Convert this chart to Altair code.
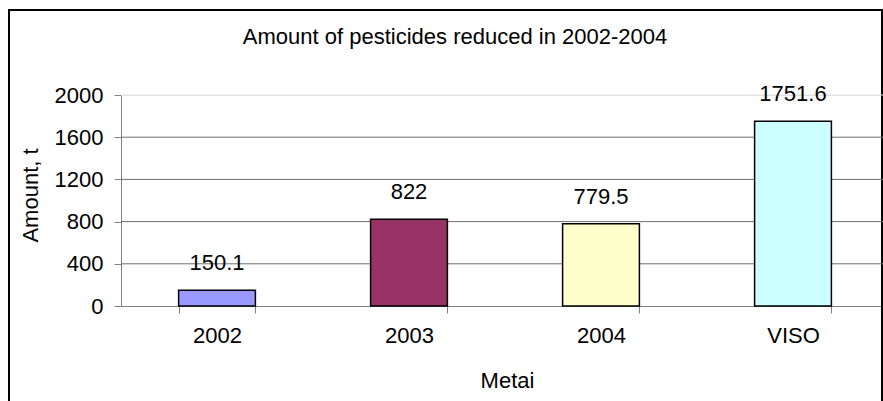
import altair as alt
import pandas as pd

categories = ["2002", "2003", "2004", "VISO"]
values = [150.1, 822, 779.5, 1751.6]
labels = ["150.1", "822", "779.5", "1751.6"]
colors = ["#9999FF", "#993366", "#FFFFCC", "#CCFFFF"]
y_ticks = [0, 400, 800, 1200, 1600, 2000]
title_text = ["Amount of pesticides reduced in 2002-2004"]

df = pd.DataFrame({"cat": categories, "val": values, "lbl": labels})
df_grid = pd.DataFrame({"v": y_ticks[1:]})
df_title = pd.DataFrame({"t": title_text})

FONT = "Liberation Sans"
FS = 22

xenc = alt.X(
    "cat:N",
    sort=categories,
    scale=alt.Scale(range=[0, 768], paddingInner=0.6, paddingOuter=0.3),
    axis=alt.Axis(
        title="Metai",
        labelAngle=0,
        labelFontSize=FS,
        labelFont=FONT,
        labelColor="#000",
        labelPadding=12,
        labelBaseline="top",
        tickBand="extent",
        tickSize=7,
        tickColor="#808080",
        domainColor="#808080",
        grid=False,
        titleFontSize=FS,
        titleFont=FONT,
        titleFontWeight="normal",
        titleColor="#000",
        titleX=386,
        titleY=81,
        titleAlign="center",
        titleBaseline="alphabetic",
    ),
)

yscale = alt.Scale(domain=[0, 2000], nice=False)

yenc = alt.Y(
    "val:Q",
    scale=yscale,
    axis=alt.Axis(
        title="Amount, t",
        values=y_ticks,
        format="d",
        labelFontSize=FS,
        labelFont=FONT,
        labelColor="#000",
        labelPadding=11,
        tickSize=7,
        tickColor="#808080",
        domainColor="#808080",
        grid=False,
        titleFontSize=FS,
        titleFont=FONT,
        titleFontWeight="normal",
        titleColor="#000",
        titleAngle=270,
        titleX=-91,
        titleY=100,
        titleAlign="center",
        titleBaseline="middle",
    ),
)

border = alt.Chart(df).mark_rect(fill=None, stroke="#000", strokeWidth=1.5).encode(
    x=alt.value(-112), x2=alt.value(761), y=alt.value(-85), y2=alt.value(320)
)

title = alt.Chart(df_title).mark_text(
    fontSize=FS, font=FONT, color="#000", align="center", baseline="alphabetic"
).encode(x=alt.value(334), y=alt.value(-51), text="t:N")

grid = alt.Chart(df_grid).mark_rule(strokeWidth=1).encode(
    y=alt.Y("v:Q", scale=yscale),
    x=alt.value(0),
    x2=alt.value(762),
    color=alt.condition(alt.datum.v == 2000, alt.value("#e6e6e6"), alt.value("#6e6e6e")),
)

bars = alt.Chart(df).mark_bar(stroke="#000", strokeWidth=1.5).encode(
    x=xenc,
    y=yenc,
    color=alt.Color("cat:N", scale=alt.Scale(domain=categories, range=colors), legend=None),
)

text = alt.Chart(df).mark_text(
    baseline="alphabetic", dy=-20, fontSize=FS, font=FONT, color="#000"
).encode(
    x=alt.X("cat:N", sort=categories),
    y=alt.Y("val:Q"),
    text="lbl:N",
)

chart = alt.layer(border, title, grid, bars, text).properties(
    width=762,
    height=211,
    autosize=alt.AutoSizeParams(type="none"),
    padding={"left": 121, "top": 95, "right": 0, "bottom": 95},
).configure_view(stroke=None).configure(background="white")

chart.save("out.html", embed_options={"renderer": "svg", "actions": False})
